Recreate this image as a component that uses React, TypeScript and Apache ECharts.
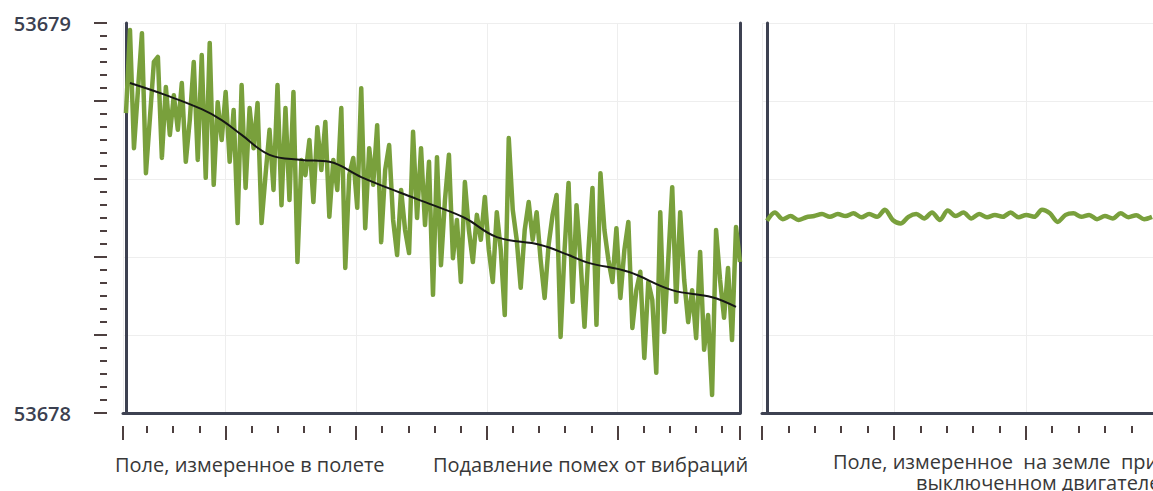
import React, { useEffect, useRef } from "react";
import * as echarts from "echarts";

// ---- data ----
const Y_MIN = 53678;
const Y_MAX = 53679;
const yTickLabels = ["53678", "53679"];

// Field measured in flight (raw, with vibration noise)
const flightField = [
  53678.769, 53678.982, 53678.679, 53678.828, 53678.974, 53678.615, 53678.756, 53678.900, 53678.913, 53678.654,
  53678.836, 53678.713, 53678.815, 53678.726, 53678.846, 53678.644, 53678.751, 53678.900, 53678.649, 53678.918,
  53678.603, 53678.949, 53678.585, 53678.797, 53678.700, 53678.823, 53678.644, 53678.777, 53678.487, 53678.841,
  53678.577, 53678.782, 53678.679, 53678.795, 53678.487,
  53678.610, 53678.726, 53678.572, 53678.841, 53678.533, 53678.782, 53678.546, 53678.823, 53678.387, 53678.649,
  53678.610, 53678.700, 53678.541, 53678.733, 53678.623, 53678.746, 53678.503, 53678.649, 53678.572, 53678.782,
  53678.372, 53678.610, 53678.654, 53678.526, 53678.833, 53678.474, 53678.679, 53678.585, 53678.738, 53678.438,
  53678.623, 53678.687, 53678.495, 53678.405, 53678.572, 53678.469, 53678.410, 53678.721, 53678.500, 53678.679,
  53678.482, 53678.644, 53678.303, 53678.656, 53678.379, 53678.546, 53678.662, 53678.397, 53678.495, 53678.336,
  53678.592, 53678.469, 53678.387, 53678.508, 53678.444, 53678.554, 53678.418, 53678.336, 53678.515, 53678.418,
  53678.251, 53678.705, 53678.521, 53678.444, 53678.321, 53678.469, 53678.541, 53678.444, 53678.515, 53678.392,
  53678.295, 53678.431, 53678.508, 53678.559, 53678.195, 53678.418, 53678.590, 53678.285, 53678.533, 53678.392,
  53678.221,
  53678.418, 53678.577, 53678.226, 53678.615, 53678.469, 53678.392, 53678.336, 53678.474, 53678.295, 53678.418,
  53678.490, 53678.218, 53678.315, 53678.362, 53678.141, 53678.336, 53678.290, 53678.103, 53678.515, 53678.208,
  53678.392, 53678.579, 53678.285, 53678.515, 53678.341, 53678.233, 53678.315, 53678.192, 53678.413, 53678.162,
  53678.251, 53678.046, 53678.469, 53678.341, 53678.244, 53678.372, 53678.187, 53678.477, 53678.387,
];

// Vibration-compensated field (sample index, value)
const trendIndex = [1, 10, 19, 24, 29, 36, 44, 51, 59, 69, 77, 85, 93, 104, 111, 116, 126, 137, 147, 153];
const trendValue = [
  53678.846, 53678.815, 53678.779, 53678.751, 53678.713, 53678.662, 53678.649, 53678.644, 53678.605, 53678.564,
  53678.533, 53678.500, 53678.451, 53678.431, 53678.405, 53678.385, 53678.362, 53678.315, 53678.297, 53678.272,
];

// Field measured on the ground, engine off
const groundField = [
  53678.493, 53678.514, 53678.497, 53678.505, 53678.495, 53678.502, 53678.505, 53678.510, 53678.503, 53678.510,
  53678.505, 53678.512, 53678.502, 53678.510, 53678.503, 53678.521, 53678.495, 53678.486, 53678.503, 53678.510,
  53678.499, 53678.514, 53678.495, 53678.519, 53678.505, 53678.514, 53678.499, 53678.510, 53678.502, 53678.508,
  53678.503, 53678.514, 53678.502, 53678.508, 53678.503, 53678.521, 53678.512, 53678.490, 53678.508, 53678.512,
  53678.503, 53678.508, 53678.497, 53678.505, 53678.499, 53678.512, 53678.502, 53678.507, 53678.497, 53678.503,
];

const panelLabels = [
  "Поле, измеренное в полете",
  "Подавление помех от вибраций",
  "Поле, измеренное  на земле  при",
  "выключенном двигателе",
];

// ---- styles ----
const AXIS_COLOR = "#3d4151";
const TICK_COLOR = "#4d4040";
const GRID_COLOR = "#eeeeee";
const GREEN = "#79a03c";
const FONT = '"Open Sans", "Noto Sans", sans-serif';

export default function App() {
  const ref = useRef<HTMLDivElement>(null);

  useEffect(() => {
    const chart = echarts.init(ref.current!, null, { renderer: "svg" });

    const mainLine = { show: true, lineStyle: { color: AXIS_COLOR, width: 3 } };
    const noLine = { show: false };
    const gridSplit = { show: true, lineStyle: { color: GRID_COLOR, width: 1 } };

    const tickXAxis = (gridIndex: number, min: number, max: number) => ({
      type: "value",
      gridIndex,
      position: "bottom",
      offset: 13,
      min,
      max,
      splitNumber: 5,
      minInterval: 5,
      maxInterval: 5,
      axisLine: noLine,
      axisTick: { show: true, length: 14, lineStyle: { color: TICK_COLOR, width: 2 } },
      minorTick: { show: true, splitNumber: 5, length: 7, lineStyle: { color: TICK_COLOR, width: 2 } },
      axisLabel: { show: false },
      splitLine: gridSplit,
      minorSplitLine: { show: false },
    });

    const labelStyle = (text: string) => ({
      text,
      fill: "#383838",
      font: `500 20px ${FONT}`,
      verticalAlign: "middle",
      lineHeight: 18,
    });

    const option: any = {
      animation: false,
      backgroundColor: "#ffffff",
      grid: [
        { left: 123, top: 23, width: 617, height: 390, outerBoundsMode: "none", containLabel: false },
        { left: 762, top: 23, width: 422, height: 390, outerBoundsMode: "none", containLabel: false },
      ],
      xAxis: [
        {
          type: "value", gridIndex: 0, position: "bottom", min: -0.75, max: flightField.length - 1,
          axisLine: mainLine, axisTick: { show: false }, axisLabel: { show: false }, splitLine: { show: false },
        },
        tickXAxis(0, 1.08, 24.69),
        {
          type: "value", gridIndex: 1, position: "bottom", min: -0.64, max: 53.07,
          axisLine: mainLine, axisTick: { show: false }, axisLabel: { show: false }, splitLine: { show: false },
        },
        tickXAxis(1, 0, 16),
      ],
      yAxis: [
        {
          type: "value", gridIndex: 0, position: "left", min: Y_MIN, max: Y_MAX, interval: 0.2,
          axisLine: mainLine, axisTick: { show: false }, axisLabel: { show: false }, splitLine: gridSplit,
        },
        {
          type: "value", gridIndex: 0, position: "left", offset: 16, min: Y_MIN, max: Y_MAX, interval: 0.2,
          axisLine: noLine,
          axisTick: { show: true, length: 13, lineStyle: { color: TICK_COLOR, width: 2 } },
          minorTick: { show: true, splitNumber: 6, length: 7, lineStyle: { color: TICK_COLOR, width: 2 } },
          splitLine: { show: false },
          axisLabel: {
            show: true,
            showMinLabel: true,
            showMaxLabel: true,
            margin: 36,
            fontSize: 20,
            fontWeight: 600,
            fontFamily: FONT,
            color: "#3b4050",
            padding: [5, 0, 0, 0],
            formatter: (v: number) => {
              const r = Math.round(v);
              if (Math.abs(v - r) > 1e-6) return "";
              const s = String(r);
              return yTickLabels.indexOf(s) >= 0 ? s : "";
            },
          },
        },
        {
          type: "value", gridIndex: 0, position: "right", min: Y_MIN, max: Y_MAX,
          axisLine: mainLine, axisTick: { show: false }, axisLabel: { show: false }, splitLine: { show: false },
        },
        {
          type: "value", gridIndex: 1, position: "left", min: Y_MIN, max: Y_MAX, interval: 0.2,
          axisLine: mainLine, axisTick: { show: false }, axisLabel: { show: false }, splitLine: gridSplit,
        },
      ],
      series: [
        {
          type: "line",
          xAxisIndex: 0,
          yAxisIndex: 0,
          data: flightField.map((v, i) => [i, v]),
          showSymbol: false,
          symbol: "none",
          lineStyle: { color: GREEN, width: 4.5, join: "round" },
          z: 2,
        },
        {
          type: "line",
          xAxisIndex: 0,
          yAxisIndex: 0,
          data: trendIndex.map((x, i) => [x, trendValue[i]]),
          smooth: 0.4,
          showSymbol: false,
          symbol: "none",
          lineStyle: { color: "#161616", width: 2 },
          z: 3,
        },
        {
          type: "line",
          xAxisIndex: 2,
          yAxisIndex: 3,
          data: groundField.map((v, i) => [i, v]),
          smooth: 0.3,
          showSymbol: false,
          symbol: "none",
          lineStyle: { color: GREEN, width: 4.5, join: "round" },
          z: 2,
        },
      ],
      graphic: [
        { type: "text", x: 115, y: 464, style: labelStyle(panelLabels[0]) },
        { type: "text", x: 433, y: 464, style: labelStyle(panelLabels[1]) },
        { type: "text", x: 833, y: 461, style: labelStyle(panelLabels[2]) },
        { type: "text", x: 916, y: 482, style: labelStyle(panelLabels[3]) },
      ],
    };

    chart.setOption(option);
    return () => chart.dispose();
  }, []);

  return (
    <div
      ref={ref}
      style={{ position: "fixed", left: 0, top: 0, width: 1153, height: 491, background: "#fff" }}
    />
  );
}
